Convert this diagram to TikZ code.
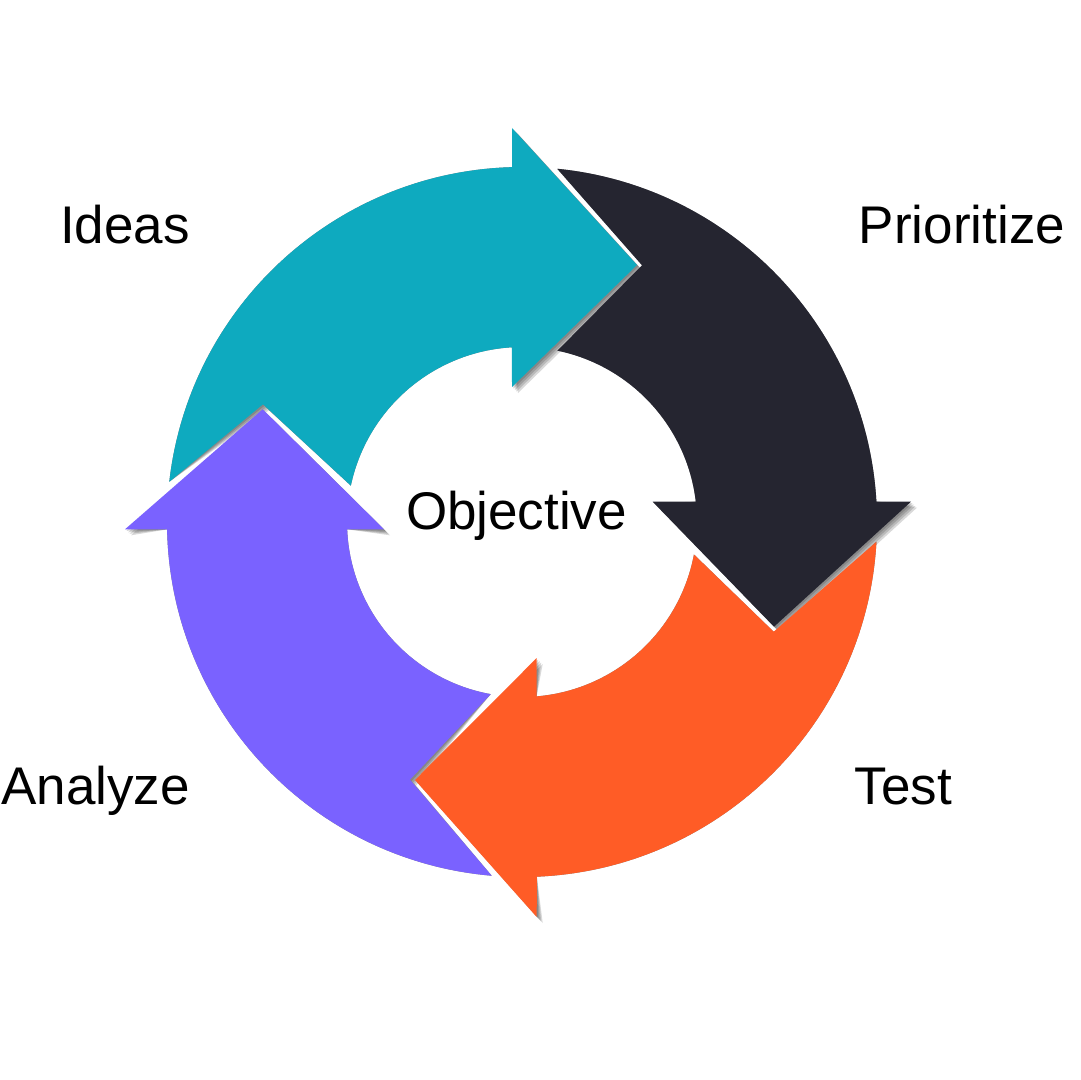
\documentclass[tikz,border=0pt]{standalone}
\usepackage{fontspec}
\setmainfont{Liberation Sans}
\usetikzlibrary{calc}
\definecolor{cteal}{HTML}{0EAABF}
\definecolor{cdark}{HTML}{252530}
\definecolor{corange}{HTML}{FF5C26}
\definecolor{cpurple}{HTML}{7A62FF}
\newcommand\tealshape{($(C)+(186.5:355)$) arc[start angle=186.5,end angle=268.4,radius=355] -- (512,128) -- (637,265) -- (512,387) -- ($(C)+(266.7:175)$) arc[start angle=266.7,end angle=192,radius=175] -- (263,404.3) -- cycle}
\newcommand\darkshape{($(C)+(275.7:355)$) arc[start angle=275.7,end angle=356.7,radius=355] -- (911,501.7) -- (774,626.7) -- (652.7,501.7) -- ($(C)+(353.3:175)$) arc[start angle=353.3,end angle=281.7,radius=175] -- (642,265.3) -- cycle}
\newcommand\orangeshape{($(C)+(3.19:355)$) arc[start angle=3.19,end angle=87.6,radius=355] -- (536.7,917) -- (415,780) -- (536.7,658) -- ($(C)+(85.2:175)$) arc[start angle=85.2,end angle=10.7,radius=175] -- (773.7,631.7) -- cycle}
\newcommand\purpleshape{($(C)+(94.9:355)$) arc[start angle=94.9,end angle=178.8,radius=355] -- (125,529.3) -- (262.7,409.3) -- (384,529.3) -- ($(C)+(177.6:175)$) arc[start angle=177.6,end angle=100.3,radius=175] -- (410,779.7) -- cycle}
\tikzset{
  shadowlayer/.style={fill=black, opacity=0.15},
  lbl/.style={inner sep=0pt, anchor=base, font=\fontsize{26.5pt}{32pt}\selectfont}
}
\begin{document}
\begin{tikzpicture}[x=0.5pt,y=-0.5pt]
\useasboundingbox (0,0) rectangle (1080,1080);
\coordinate (C) at (522,522);
% shadows
\foreach \s in {1.5,3,4.5,6}{
  \fill[shadowlayer, shift={(\s,\s)}] \tealshape;
  \fill[shadowlayer, shift={(\s,\s)}] \darkshape;
  \fill[shadowlayer, shift={(\s,\s)}] \orangeshape;
  \fill[shadowlayer, shift={(\s,\s)}] \purpleshape;
}
% arrows
\fill[cteal] \tealshape;
\fill[cdark] \darkshape;
\fill[corange] \orangeshape;
\fill[cpurple] \purpleshape;
% labels
\node[lbl] (ideas) at (125,244) {Ideas};
\node[lbl] (prioritize) at (962,243.5) {Prioritize};
\node[lbl] (objective) at (516.5,529) {Objective};
\node[lbl, anchor=base west] (analyze) at (1,804) {Analyze};
\node[lbl] (test) at (903.5,804) {Test};
\end{tikzpicture}
\end{document}
